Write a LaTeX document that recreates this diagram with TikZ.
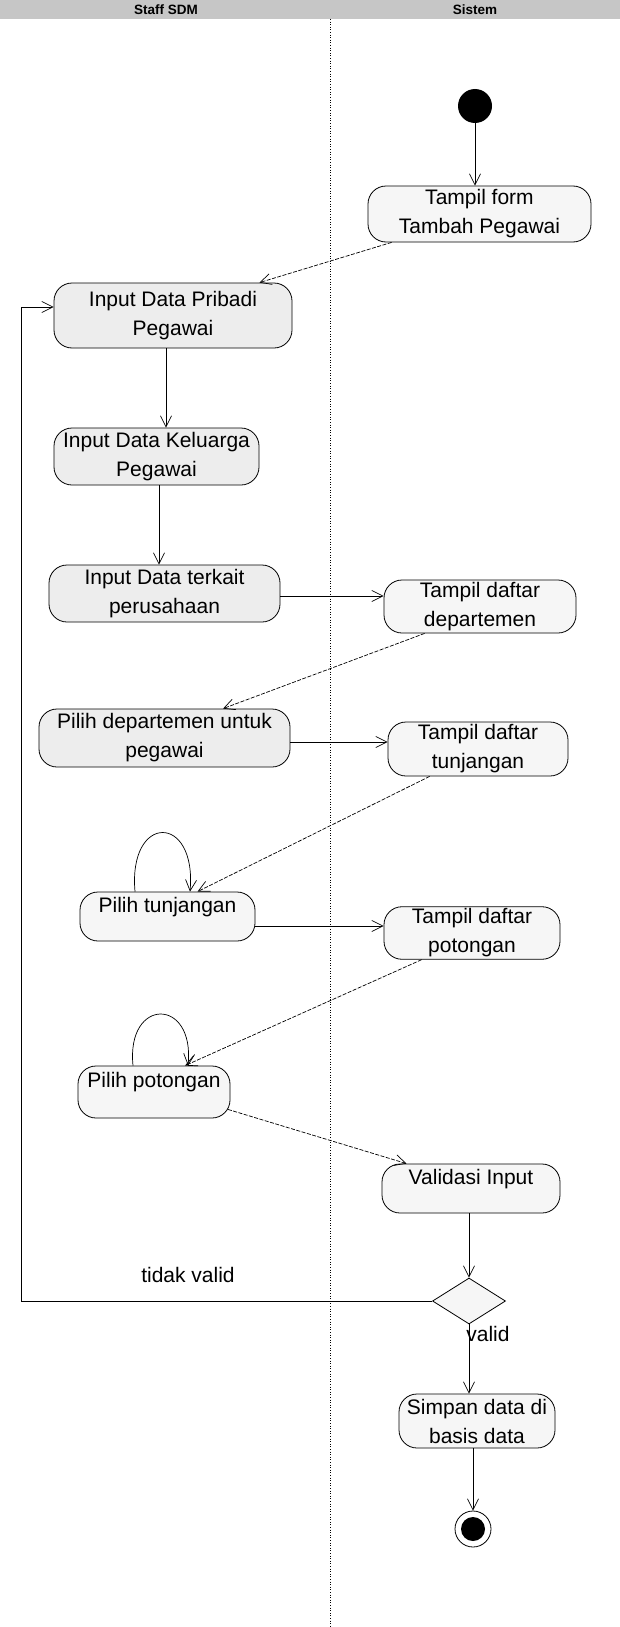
\documentclass[tikz,border=0pt]{standalone}
\usepackage{fontspec}
\setmainfont{Liberation Sans}
\usetikzlibrary{arrows.meta,shapes.geometric}
\begin{document}
\begin{tikzpicture}[x=1pt,y=-1pt,
  act/.style={draw=black, line width=0.8pt, rounded corners=18pt, fill=gray!7,
    align=center, inner sep=2pt, font=\fontsize{21}{29}\selectfont},
  actdark/.style={act, fill=gray!14},
  sz/.style 2 args={minimum width=#1pt, minimum height=#2pt},
  flow/.style={line width=0.7pt, -{Straight Barb[length=11pt,width=11pt]}},
  diag/.style={flow, dash pattern=on 4pt off 1.5pt},
  lane/.style={line width=0.6pt, dotted},
  lbl/.style={font=\fontsize{21}{25}\selectfont},
  head/.style={font=\bfseries\fontsize{13.5}{15}\selectfont}
]
\useasboundingbox (0,0) rectangle (620,1627);
\fill[white] (0,0) rectangle (620,1627);

% swimlane header and divider
\fill[gray!45] (0,0) rectangle (620,19);
\node[head] (hstaff) at (166,9.5) {Staff SDM};
\node[head] (hsys) at (475,9.5) {Sistem};
\draw[lane] (330,19) -- (330,1627);

% initial and final nodes
\node[circle, fill=black, minimum size=34pt, inner sep=0pt] (init) at (475,106) {};
\node[circle, draw=black, line width=0.8pt, fill=white, minimum size=36pt, inner sep=0pt] (fin) at (473,1529) {};
\node[circle, fill=black, minimum size=24pt, inner sep=0pt] (finc) at (fin.center) {};

% activities
\node[act, sz={223}{56}] (tform) at (479.5,214) {Tampil form\\Tambah Pegawai};
\node[actdark, sz={238}{65}] (prib) at (173,315.5) {Input Data Pribadi\\Pegawai};
\node[actdark, sz={205}{57}] (kel) at (156.5,456.5) {Input Data Keluarga\\Pegawai};
\node[actdark, sz={231}{57}] (ter) at (164.5,593.5) {Input Data terkait\\perusahaan};
\node[act, sz={192}{53}] (tdep) at (480,606.5) {Tampil daftar\\departemen};
\node[actdark, sz={251}{58}] (pdep) at (164.5,738) {Pilih departemen untuk\\pegawai};
\node[act, sz={180}{54}] (ttun) at (478,749) {Tampil daftar\\tunjangan};
\node[act, sz={175}{49}] (ptun) at (167.5,916.5) {Pilih tunjangan\\[-14pt]\strut};
\node[act, sz={176}{52}] (tpot) at (472,933) {Tampil daftar\\potongan};
\node[act, sz={152}{52}] (ppot) at (154,1092) {Pilih potongan\\[-14pt]\strut};
\node[act, sz={178}{49}] (val) at (471,1188.5) {Validasi Input\\[-14pt]\strut};
\node[diamond, draw=black, line width=0.8pt, fill=gray!7, minimum width=73pt, minimum height=46pt, inner sep=0pt] (dec) at (469,1301) {};
\node[act, sz={156}{54}] (simp) at (477,1421) {Simpan data di\\basis data};

% guard labels
\node[lbl] (tv) at (188,1275) {tidak valid};
\node[lbl] (vl) at (488,1334) {valid};

% transitions
\draw[flow] (init.south) -- (init.south |- tform.north);
\draw[diag] ([xshift=24pt]tform.south west) -- ([xshift=-33pt]prib.north east);
\draw[flow] ([xshift=-7pt]prib.south) -- ([xshift=-7pt]prib.south |- kel.north);
\draw[flow] ([xshift=2.5pt]kel.south) -- ([xshift=2.5pt]kel.south |- ter.north);
\draw[flow] ([yshift=-2.5pt]ter.east) -- ([yshift=-2.5pt]ter.east -| tdep.west);
\draw[diag] ([xshift=41pt]tdep.south west) -- ([xshift=58.5pt]pdep.north);
\draw[flow] ([yshift=-4pt]pdep.east) -- ([yshift=-4pt]pdep.east -| ttun.west);
\draw[diag] ([xshift=42pt]ttun.south west) -- ([xshift=30pt]ptun.north);
\draw[flow] ([yshift=-9.5pt]ptun.east) -- ([yshift=-9.5pt]ptun.east -| tpot.west);
\draw[diag] ([xshift=38pt]tpot.south west) -- ([xshift=31pt]ppot.north);
\draw[diag] ([shift={(-2.5pt,9pt)}]ppot.south east) -- ([xshift=25pt]val.north west);
\draw[flow] (dec.north |- val.south) -- (dec.north);
\draw[flow] (dec.south) -- (dec.south |- simp.north);
\draw[flow] (fin.north |- simp.south) -- (fin.north);

% self loops
\draw[flow] ([xshift=-32.5pt]ptun.north) .. controls (128,813) and (197,813) .. ([xshift=22.5pt]ptun.north);
\draw[flow] ([xshift=-21pt]ppot.north) .. controls (126,997) and (195,997) .. ([xshift=34pt]ppot.north);

% invalid input returns to the first form
\coordinate (back) at (21,0);
\draw[flow] (dec.west) -- (dec.west -| back) |- ([yshift=8.5pt]prib.west);
\end{tikzpicture}
\end{document}
